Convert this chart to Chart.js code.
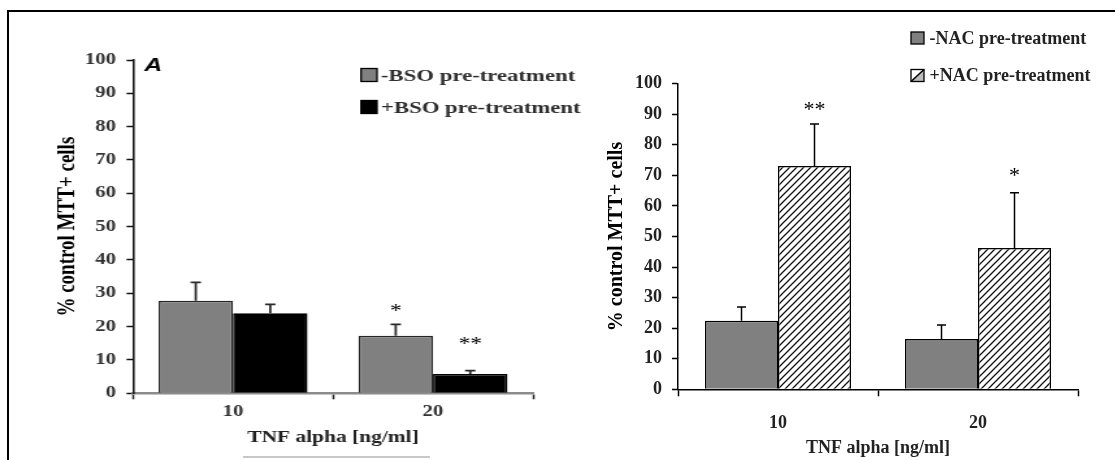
<!DOCTYPE html>
<html>
<head>
<meta charset="utf-8">
<script src="https://cdn.jsdelivr.net/npm/chart.js@4.4.1/dist/chart.umd.min.js"></script>
<style>
  body { margin: 0; background: #fff; width: 1115px; height: 460px; overflow: hidden; position: relative; }
  .frame { position: absolute; left: 7px; top: 10px; width: 1120px; height: 470px; border-top: 2px solid #000; border-left: 2px solid #000; }
  #bsoBox { position: absolute; left: 0; top: 0; width: 460px; height: 460px; transform: scaleX(1.3); transform-origin: 0 0; filter: blur(0.4px); }
  #nacBox { position: absolute; left: 600px; top: 0; width: 515px; height: 460px; }
  .rule { position: absolute; left: 243px; top: 456px; width: 187px; height: 2px; background: #c8c8c8; }
</style>
</head>
<body>
<div class="frame"></div>
<div id="bsoBox"><canvas id="bsoChart"></canvas></div>
<div id="nacBox"><canvas id="nacChart"></canvas></div>
<div class="rule"></div>
<script>
const doses = ['10', '20']

// panel A: BSO
const bsoMinus = [27.8, 17.3]
const bsoMinusErr = [5.5, 3.4]
const bsoMinusStars = ['', '*']
const bsoPlus = [24.0, 5.8]
const bsoPlusErr = [2.7, 1.0]
const bsoPlusStars = ['', '**']

// panel B: NAC
const nacMinus = [22.4, 16.5]
const nacMinusErr = [4.5, 4.5]
const nacMinusStars = ['', '']
const nacPlus = [73.1, 46.2]
const nacPlusErr = [13.7, 18.1]
const nacPlusStars = ['**', '*']

const serif = "'Liberation Serif', 'Times New Roman', serif"
const bold = size => ({ family: serif, weight: 'bold', size })

// diagonal hatch for the +NAC bars
const tile = document.createElement('canvas')
tile.width = tile.height = 7
const tg = tile.getContext('2d')
tg.fillStyle = '#fff'
tg.fillRect(0, 0, 7, 7)
tg.strokeStyle = '#111'
tg.lineWidth = 1.3
tg.beginPath()
tg.moveTo(-1, 8); tg.lineTo(8, -1)
tg.moveTo(-1, 1); tg.lineTo(1, -1)
tg.moveTo(6, 8); tg.lineTo(8, 6)
tg.stroke()
const hatch = tg.createPattern(tile, 'repeat')

// error bars, significance stars, the key and the panel letter
const barExtras = {
  id: 'barExtras',
  afterDatasetsDraw(chart, args, o) {
    const { ctx } = chart
    const y = chart.scales.y
    chart.data.datasets.forEach((ds, di) => {
      chart.getDatasetMeta(di).data.forEach((bar, i) => {
        const top = y.getPixelForValue(ds.data[i] + ds.errors[i])
        ctx.save()
        ctx.strokeStyle = o.errColor
        ctx.lineWidth = o.errWidth
        ctx.beginPath()
        ctx.moveTo(bar.x, bar.y)
        ctx.lineTo(bar.x, top)
        ctx.moveTo(bar.x - o.cap / 2, top)
        ctx.lineTo(bar.x + o.cap / 2, top)
        ctx.stroke()
        if (ds.stars[i]) {
          ctx.font = o.starFont
          ctx.fillStyle = '#000'
          ctx.textAlign = 'center'
          ctx.textBaseline = 'middle'
          ctx.fillText(ds.stars[i], bar.x, top - o.starLift[di][i])
        }
        ctx.restore()
      })
    })
  },
  afterDraw(chart, args, o) {
    const { ctx } = chart
    const k = o.key
    ctx.save()
    chart.data.datasets.forEach((ds, di) => {
      const by = k.rows[di] - k.h / 2
      if (ds.backgroundColor === hatch) {
        ctx.fillStyle = '#fff'
        ctx.fillRect(k.x, by, k.w, k.h)
        ctx.beginPath()
        ctx.moveTo(k.x, by + k.h)
        ctx.lineTo(k.x + k.w, by)
        ctx.lineTo(k.x + k.w, by + k.h)
        ctx.closePath()
        ctx.fillStyle = '#bbb'
        ctx.fill()
        ctx.strokeStyle = '#000'
        ctx.lineWidth = 1.6
        ctx.beginPath()
        ctx.moveTo(k.x, by + k.h)
        ctx.lineTo(k.x + k.w, by)
        ctx.stroke()
      } else {
        ctx.fillStyle = ds.backgroundColor
        ctx.fillRect(k.x, by, k.w, k.h)
      }
      ctx.strokeStyle = '#000'
      ctx.lineWidth = 1.3
      ctx.strokeRect(k.x, by, k.w, k.h)
      ctx.font = k.font
      ctx.fillStyle = k.color
      ctx.textAlign = 'left'
      ctx.textBaseline = 'middle'
      ctx.fillText(ds.label, k.textX, k.rows[di] + 1)
    })
    if (o.tag) {
      ctx.font = o.tag.font
      ctx.fillStyle = '#000'
      ctx.textBaseline = 'middle'
      ctx.fillText(o.tag.text, o.tag.x, o.tag.y)
    }
    ctx.restore()
  }
}

new Chart(document.getElementById('bsoChart'), {
  type: 'bar',
  data: {
    labels: doses,
    datasets: [
      { label: '-BSO pre-treatment', data: bsoMinus, errors: bsoMinusErr, stars: bsoMinusStars, backgroundColor: '#808080', borderColor: '#262626', borderWidth: 1.6 },
      { label: '+BSO pre-treatment', data: bsoPlus, errors: bsoPlusErr, stars: bsoPlusStars, backgroundColor: '#000', borderColor: '#000', borderWidth: 1.6 }
    ]
  },
  options: {
    responsive: true,
    maintainAspectRatio: false,
    animation: false,
    devicePixelRatio: 1,
    layout: { padding: { left: 0, top: 60, right: 50, bottom: 0 } },
    datasets: { bar: { categoryPercentage: 0.745, barPercentage: 1 } },
    plugins: {
      legend: { display: false },
      tooltip: { enabled: false },
      barExtras: {
        errColor: '#2a2a2a', errWidth: 1.8, cap: 8,
        starFont: '18px ' + serif,
        starLift: [[0, 12], [0, 25]],
        key: { x: 277.7, rows: [75, 107], w: 12.3, h: 13, textX: 293, font: 'bold 17.5px ' + serif, color: '#2e2e2e' },
        tag: { text: 'A', x: 111, y: 66, font: "italic bold 19px 'Liberation Sans', Arial, sans-serif" }
      }
    },
    scales: {
      x: {
        grid: { drawOnChartArea: false, tickLength: 6, tickColor: '#222', tickWidth: 1.5 },
        border: { color: '#8c8c8c', width: 2.5 },
        ticks: { padding: 3, color: '#333', font: bold(16) },
        title: { display: true, text: 'TNF alpha [ng/ml]', color: '#222', font: bold(16.5), padding: { top: 0, bottom: 12 } },
        afterFit: s => { s.height = 66.7 }
      },
      y: {
        min: 0,
        max: 100,
        ticks: { stepSize: 10, padding: 8, color: '#333', font: bold(16) },
        grid: { drawOnChartArea: false, tickLength: 5, tickColor: '#111', tickWidth: 1.5 },
        border: { color: '#111', width: 1.6 },
        title: { display: true, text: '% control MTT+ cells', color: '#000', font: bold(19), padding: { top: 41, bottom: 0 } },
        afterFit: s => { s.width = 102.3 }
      }
    }
  },
  plugins: [barExtras]
})

new Chart(document.getElementById('nacChart'), {
  type: 'bar',
  data: {
    labels: doses,
    datasets: [
      { label: '-NAC pre-treatment', data: nacMinus, errors: nacMinusErr, stars: nacMinusStars, backgroundColor: '#808080', borderColor: '#000', borderWidth: 1.5 },
      { label: '+NAC pre-treatment', data: nacPlus, errors: nacPlusErr, stars: nacPlusStars, backgroundColor: hatch, borderColor: '#000', borderWidth: 1.5 }
    ]
  },
  options: {
    responsive: true,
    maintainAspectRatio: false,
    animation: false,
    devicePixelRatio: 1,
    layout: { padding: { left: 0, top: 83.7, right: 37, bottom: 0 } },
    datasets: { bar: { categoryPercentage: 0.73, barPercentage: 1 } },
    plugins: {
      legend: { display: false },
      tooltip: { enabled: false },
      barExtras: {
        errColor: '#000', errWidth: 1.5, cap: 9,
        starFont: '22px ' + serif,
        starLift: [[0, 0], [14, 17]],
        key: { x: 311, rows: [38, 75.5], w: 13, h: 12, textX: 329.5, font: 'bold 18px ' + serif, color: '#222' }
      }
    },
    scales: {
      x: {
        grid: { drawOnChartArea: false, tickLength: 7, tickColor: '#000', tickWidth: 1.5 },
        border: { color: '#000', width: 1.5 },
        ticks: { padding: 16, color: '#222', font: bold(18) },
        title: { display: true, text: 'TNF alpha [ng/ml]', color: '#222', font: bold(18), padding: { top: 0, bottom: 1.2 } },
        afterFit: s => { s.height = 70.7 }
      },
      y: {
        min: 0,
        max: 100,
        ticks: { stepSize: 10, padding: 10, color: '#222', font: bold(18) },
        grid: { drawOnChartArea: false, tickLength: 6, tickColor: '#000', tickWidth: 1.5 },
        border: { color: '#000', width: 1.5 },
        title: { display: true, text: '% control MTT+ cells', color: '#000', font: bold(20), padding: { top: 5, bottom: 0 } },
        afterFit: s => { s.width = 78 }
      }
    }
  },
  plugins: [barExtras]
})
</script>
</body>
</html>
